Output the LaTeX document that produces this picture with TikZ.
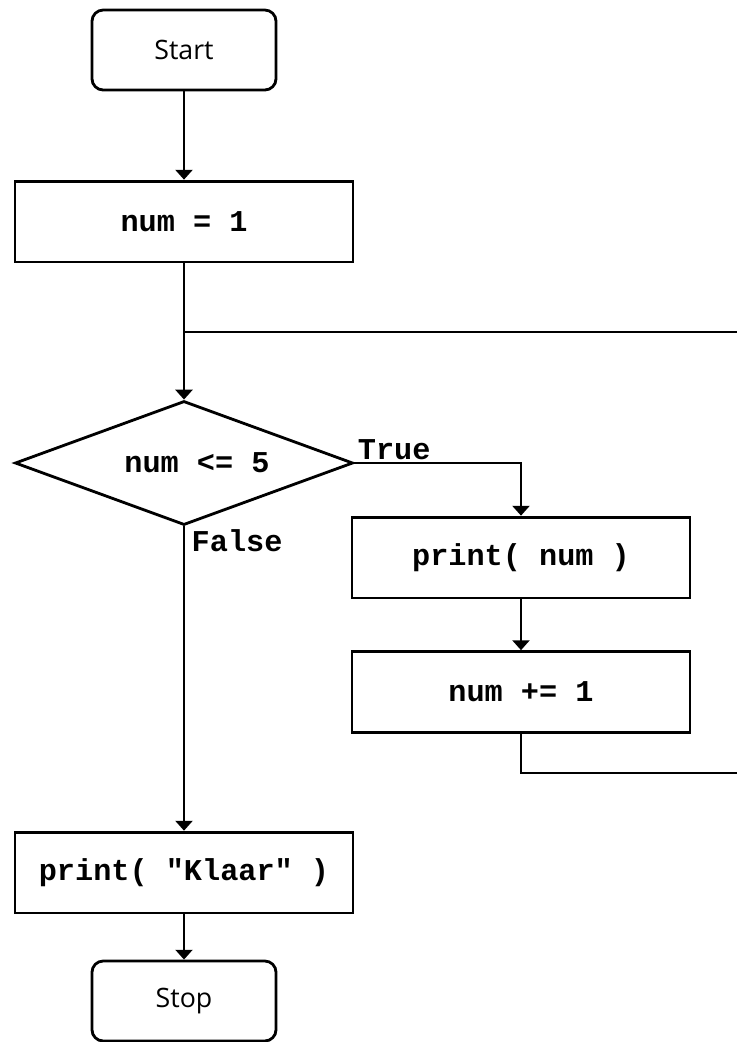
\documentclass[tikz,border=0pt]{standalone}
\usepackage{fontspec}
\setmainfont{Open Sans}
\newfontfamily\codefont{Liberation Mono}
\usetikzlibrary{shapes.geometric,arrows.meta}

\begin{document}
\begin{tikzpicture}[x=0.025cm,y=-0.025cm,line width=2pt,>={Triangle[length=7pt,width=12pt]}]

	%\draw[help lines] (0,0) grid[step=50] (737,1042);
	\useasboundingbox (0,0) rectangle (737,1042);

	\tikzset{terminal/.style={draw,rounded corners=8pt,minimum width=4.6cm,minimum height=2cm,inner sep=0pt,font=\fontsize{19}{22}\selectfont}}
	\tikzset{process/.style={draw,minimum width=8.45cm,minimum height=2.02cm,inner sep=0pt,font=\codefont\bfseries\fontsize{21.5}{24}\selectfont}}
	\tikzset{decision/.style={draw,diamond,aspect=2.7,minimum width=8.45cm,minimum height=3.1cm,inner sep=0pt,font=\codefont\bfseries\fontsize{21.5}{24}\selectfont}}
	\tikzset{branch/.style={inner sep=1.5pt,font=\codefont\bfseries\fontsize{21.5}{24}\selectfont}}

	% nodes

	\node[terminal] (start) at (184,50) {Start};
	\node[process] (init) at (184,221.5) {num = 1};
	\node[decision] (cond) at (184,463) {\hspace*{0.65cm}num <= 5};
	\node[process] (body) at (521,557.5) {print( num )};
	\node[process] (incr) at (521,692) {num += 1};
	\node[process] (done) at (184,872.5) {print( "Klaar" )};
	\node[terminal] (stop) at (184,1001) {Stop};

	% loop ends at the right edge
	\coordinate (looptop) at (737,332);
	\coordinate (loopend) at (737,773);

	% connectors

	\draw[->] (start) -- (init);
	\draw[->] (init) -- (cond);
	\draw (init.south |- looptop) -- (looptop);
	\draw[->] (cond.east) -- (cond.east -| body.north) -- (body.north);
	\draw[->] (body) -- (incr);
	\draw (incr.south) |- (loopend);
	\draw[->] (cond) -- (done);
	\draw[->] (done) -- (stop);

	\node[branch,above right] (yes) at (cond.east) {True};
	\node[branch,below right,xshift=3pt] (no) at (cond.south) {False};

\end{tikzpicture}
\end{document}
